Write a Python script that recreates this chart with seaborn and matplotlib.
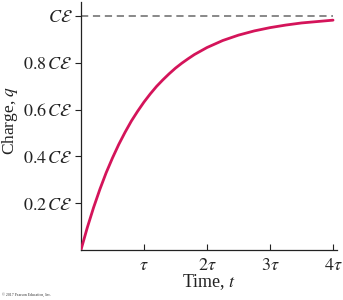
import matplotlib
matplotlib.use("Agg")
import matplotlib.pyplot as plt
import seaborn as sns
import pandas as pd

# Values (t in units of tau, q in units of C*E)
t_values = [0, 0.1, 0.2, 0.3, 0.4, 0.5, 0.6, 0.7, 0.8, 0.9, 1.0, 1.1, 1.2, 1.3, 1.4,
            1.5, 1.6, 1.7, 1.8, 1.9, 2.0, 2.25, 2.5, 2.75, 3.0, 3.25, 3.5, 3.75, 4.0]
q_values = [0, 0.095, 0.181, 0.259, 0.330, 0.393, 0.451, 0.503, 0.551, 0.593, 0.632,
            0.667, 0.699, 0.727, 0.753, 0.777, 0.798, 0.817, 0.835, 0.850, 0.865,
            0.895, 0.918, 0.936, 0.950, 0.961, 0.970, 0.976, 0.982]
x_ticks = [1, 2, 3, 4]
x_tick_labels = [r"$\tau$", r"$2\tau$", r"$3\tau$", r"$4\tau$"]
y_ticks = [0.2, 0.4, 0.6, 0.8, 1.0]
y_tick_labels = [r"$0.2\,C\mathcal{E}$", r"$0.4\,C\mathcal{E}$", r"$0.6\,C\mathcal{E}$",
                 r"$0.8\,C\mathcal{E}$", r"$C\mathcal{E}$"]
asymptote = 1.0

sns.set_style("ticks")
plt.rcParams["font.family"] = ["Liberation Serif", "DejaVu Serif"]
plt.rcParams["mathtext.fontset"] = "stix"

df = pd.DataFrame({"t": t_values, "q": q_values})

fig = plt.figure(figsize=(3.43, 3.0), dpi=100)
ax = fig.add_axes([0.236, 0.1667, 0.746, 0.827])

ax.axhline(asymptote, xmin=0, xmax=4.0 / 4.06, color="#7f7f7f", lw=1.3,
           dashes=(4, 2.6), zorder=1)
sns.lineplot(data=df, x="t", y="q", ax=ax, color="#d4145a", lw=2.0, zorder=3)

ax.set_xlim(0, 4.06)
ax.set_ylim(0, 1.06)
ax.set_xticks(x_ticks)
ax.set_xticklabels(x_tick_labels, fontsize=13)
ax.set_yticks(y_ticks)
ax.set_yticklabels(y_tick_labels, fontsize=13)
ax.tick_params(axis="x", direction="in", length=4, width=0.8, pad=5, colors="#222222")
ax.tick_params(axis="y", direction="out", length=4, width=0.8, pad=2, colors="#222222")
for lbl in ax.get_xticklabels() + ax.get_yticklabels():
    lbl.set_color("#222222")

for s in ["top", "right"]:
    ax.spines[s].set_visible(False)
for s in ["left", "bottom"]:
    ax.spines[s].set_linewidth(0.9)
    ax.spines[s].set_color("#222222")

ax.set_xlabel("Time, $t$", fontsize=13, labelpad=-1, color="#222222")
ax.set_ylabel("Charge, $q$", fontsize=12.5, color="#222222", va="center")
ax.yaxis.set_label_coords(-0.277, 0.524)

fig.text(0.005, 0.012, "\u00a9 2017 Pearson Education, Inc.", fontsize=2.8, color="#333333")

fig.savefig("out.png", dpi=100)
